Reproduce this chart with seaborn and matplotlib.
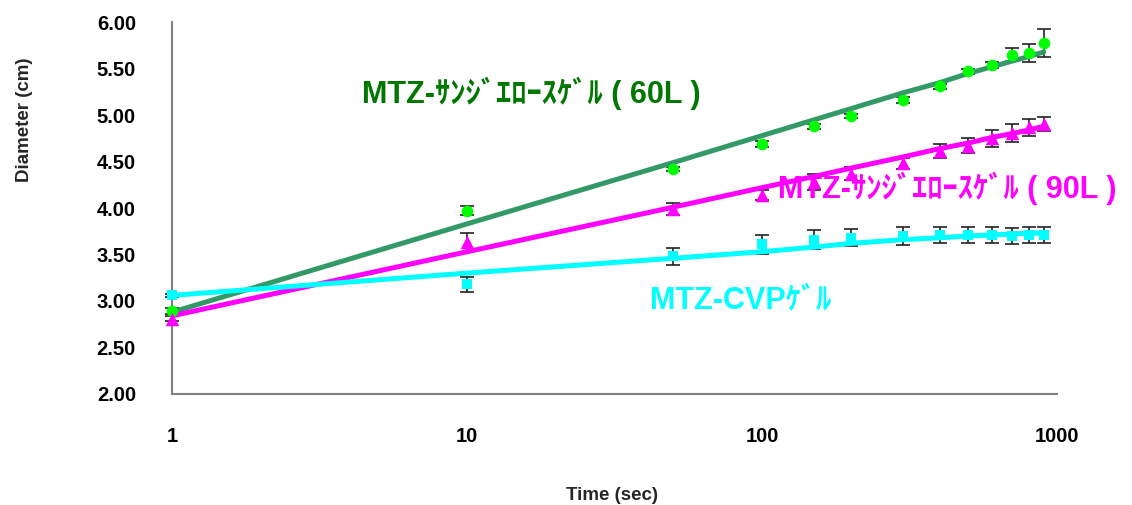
import pandas as pd
import matplotlib.pyplot as plt
import seaborn as sns
from matplotlib.ticker import FixedLocator, NullLocator, FixedFormatter

# 測定時間 (sec)
time_sec = [1, 10, 50, 100, 150, 200, 300, 400, 500, 600, 700, 800, 900]

# 実測値 (cm) と標準偏差
gel60_mean = [2.89, 3.97, 4.42, 4.69, 4.88, 4.99, 5.16, 5.31, 5.47, 5.54, 5.65, 5.67, 5.78]
gel60_err = [0.03, 0.05, 0.02, 0.03, 0.03, 0.02, 0.03, 0.03, 0.03, 0.03, 0.07, 0.10, 0.15]
gel90_mean = [2.81, 3.63, 3.99, 4.14, 4.28, 4.37, 4.48, 4.61, 4.67, 4.75, 4.81, 4.87, 4.90]
gel90_err = [0.03, 0.10, 0.06, 0.05, 0.09, 0.07, 0.06, 0.075, 0.08, 0.09, 0.10, 0.09, 0.075]
cvp_mean = [3.06, 3.18, 3.48, 3.61, 3.66, 3.68, 3.70, 3.71, 3.71, 3.71, 3.70, 3.71, 3.71]
cvp_err = [0.02, 0.08, 0.09, 0.10, 0.10, 0.09, 0.095, 0.09, 0.09, 0.09, 0.09, 0.09, 0.09]

# 近似曲線 (各測定時間での値)
gel60_fit = [2.88, 3.83, 4.49, 4.78, 4.95, 5.07, 5.24, 5.35, 5.45, 5.52, 5.58, 5.63, 5.68]
gel90_fit = [2.84, 3.53, 4.01, 4.22, 4.34, 4.43, 4.55, 4.64, 4.70, 4.76, 4.80, 4.84, 4.88]
cvp_fit = [3.06, 3.30, 3.46, 3.53, 3.58, 3.62, 3.66, 3.68, 3.70, 3.71, 3.72, 3.73, 3.73]

labels = ["MTZ-ｻﾝｼﾞｴﾛｰｽｹﾞﾙ ( 60L )", "MTZ-ｻﾝｼﾞｴﾛｰｽｹﾞﾙ ( 90L )", "MTZ-CVPｹﾞﾙ"]
x_ticks = [1, 10, 100, 1000]
x_tick_labels = ["1", "10", "100", "1000"]
y_ticks = [2.0, 2.5, 3.0, 3.5, 4.0, 4.5, 5.0, 5.5, 6.0]

sns.set_style("white")
plt.rcParams['font.family'] = ['Liberation Sans', 'Noto Sans CJK JP', 'DejaVu Sans']
plt.rcParams['font.weight'] = 'bold'

fig, ax = plt.subplots(figsize=(11.32, 5.05), dpi=100)
fig.subplots_adjust(left=0.152, right=0.934, bottom=0.220, top=0.956)

series = [
    (gel60_mean, gel60_err, gel60_fit, '#00FF00', '#339966', 'o', 70),
    (gel90_mean, gel90_err, gel90_fit, '#FF00FF', '#FF00FF', '^', 95),
    (cvp_mean, cvp_err, cvp_fit, '#00FFFF', '#00FFFF', 's', 60),
]

for mean, err, fit, mcol, lcol, mk, sz in series:
    df = pd.DataFrame({'time': time_sec, 'mean': mean, 'err': err, 'fit': fit})
    ax.errorbar(df['time'], df['mean'], yerr=df['err'], fmt='none', ecolor='#222222',
                elinewidth=1.2, capsize=5, capthick=1.2, zorder=2, clip_on=False)
    sns.scatterplot(data=df, x='time', y='mean', marker=mk, s=sz, color=mcol,
                    edgecolor=mcol, linewidth=0, ax=ax, zorder=4, clip_on=False)
    sns.lineplot(data=df, x='time', y='fit', color=lcol, lw=3.6, ax=ax, zorder=3)

ax.set_xscale('log')
ax.set_xlim(1, 1000)
ax.set_ylim(2.0, 6.0)
ax.xaxis.set_major_locator(FixedLocator(x_ticks))
ax.xaxis.set_major_formatter(FixedFormatter(x_tick_labels))
ax.xaxis.set_minor_locator(NullLocator())
ax.set_yticks(y_ticks)
ax.set_yticklabels([f"{v:.2f}" for v in y_ticks])

ax.tick_params(axis='both', direction='in', length=6, width=1.2, color='#808080',
               labelsize=14.5, labelcolor='black')
ax.tick_params(axis='y', pad=26)
ax.tick_params(axis='x', pad=24)

for side in ['top', 'right']:
    ax.spines[side].set_visible(False)
for side in ['left', 'bottom']:
    ax.spines[side].set_color('#808080')
    ax.spines[side].set_linewidth(1.5)

ax.set_xlabel('Time (sec)', fontsize=13.5, fontweight='bold')
ax.set_ylabel('Diameter (cm)', fontsize=13.5, fontweight='bold')
ax.xaxis.set_label_coords(0.497, -0.25)
ax.yaxis.set_label_coords(-0.157, 0.737)

# 系列名のラベル
ax.text(0.215, 0.809, labels[0], transform=ax.transAxes, color='#007700',
        fontsize=22, fontweight='bold', va='center', ha='left')
ax.text(0.685, 0.554, labels[1], transform=ax.transAxes, color='#FF00FF',
        fontsize=22, fontweight='bold', va='center', ha='left')
ax.text(0.540, 0.253, labels[2], transform=ax.transAxes, color='#00FFFF',
        fontsize=22, fontweight='bold', va='center', ha='left')

plt.savefig('out.png', dpi=100)
